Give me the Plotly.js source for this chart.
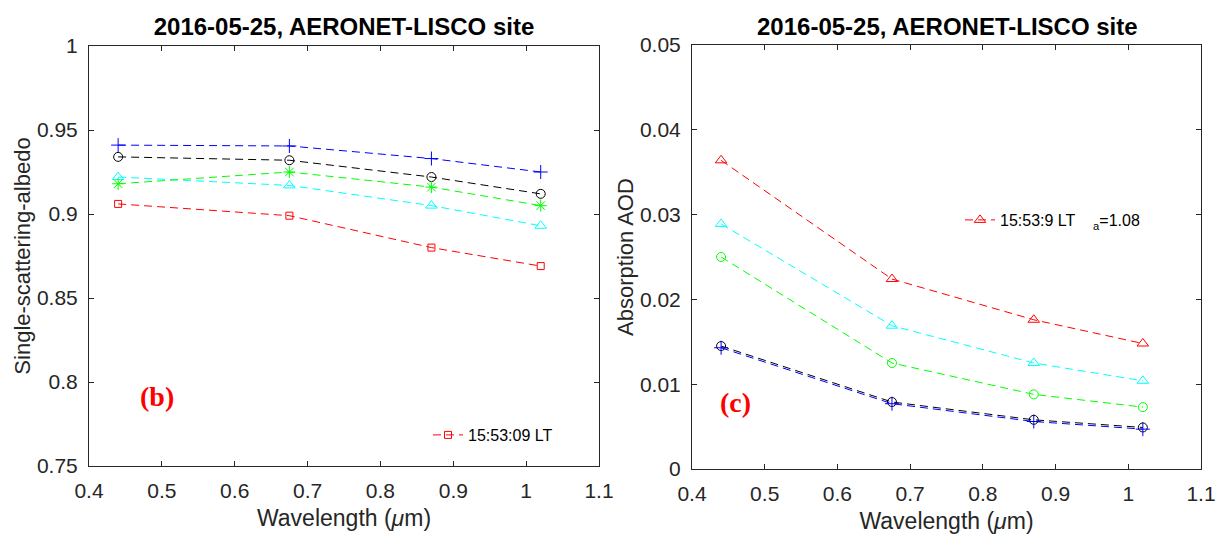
<!DOCTYPE html>
<html>
<head>
<meta charset="utf-8">
<script src="https://cdn.plot.ly/plotly-3.0.1.min.js"></script>
<style>html,body{margin:0;padding:0;background:#fff;}#chart{width:1219px;height:538px;}</style>
</head>
<body>
<div id="chart"></div>
<script>
// ---- data ----
const wavelength = [0.44, 0.675, 0.87, 1.02];

// panel (b) single-scattering albedo
const ssaBlue  = [0.941, 0.9405, 0.933, 0.925];
const ssaBlack = [0.934, 0.932, 0.922, 0.912];
const ssaGreen = [0.918, 0.925, 0.916, 0.905];
const ssaCyan  = [0.922, 0.917, 0.905, 0.893];
const ssaRed   = [0.906, 0.899, 0.880, 0.869];

// panel (c) absorption AOD
const aaodRed   = [0.0364, 0.0224, 0.0176, 0.0148];
const aaodCyan  = [0.0289, 0.0169, 0.0125, 0.0104];
const aaodGreen = [0.0250, 0.0125, 0.0088, 0.0073];
const aaodBlack = [0.0145, 0.0079, 0.0058, 0.0049];
const aaodBlue  = [0.0143, 0.0077, 0.0056, 0.0047];

const xTickVals = [0.4, 0.5, 0.6, 0.7, 0.8, 0.9, 1.0, 1.1];
const xTickText = ['0.4', '0.5', '0.6', '0.7', '0.8', '0.9', '1', '1.1'];
const ssaTickVals = [0.75, 0.8, 0.85, 0.9, 0.95, 1.0];
const ssaTickText = ['0.75', '0.8', '0.85', '0.9', '0.95', '1'];
const aaodTickVals = [0, 0.01, 0.02, 0.03, 0.04, 0.05];
const aaodTickText = ['0', '0.01', '0.02', '0.03', '0.04', '0.05'];

const legendB = '15:53:09 LT';
const legendC = '15:53:9 LT&nbsp;&nbsp;&nbsp;&nbsp;<sub>a</sub>=1.08';
const titleText = '2016-05-25, AERONET-LISCO site';

// ---- styling ----
const DASH = '8px,5px';
function tr(y, color, symbol, size, xa, ya, opts) {
  return Object.assign({
    x: wavelength, y: y, xaxis: xa, yaxis: ya,
    type: 'scatter', mode: 'lines+markers',
    line: {color: color, width: 1, dash: DASH},
    marker: {symbol: symbol, size: size, color: color, line: {color: color, width: 1}},
    showlegend: false, hoverinfo: 'skip'
  }, opts || {});
}

const data = [
  tr(ssaBlue,  '#0000ff', 'cross-thin-open', 10, 'x', 'y'),
  tr(ssaBlack, '#000000', 'circle-open', 9, 'x', 'y'),
  tr(ssaCyan,  '#00ffff', 'triangle-up-open', 10, 'x', 'y'),
  tr(ssaGreen, '#00ff00', 'asterisk-open', 10, 'x', 'y'),
  tr(ssaRed,   '#ff0000', 'square-open', 7, 'x', 'y', {showlegend: true, name: legendB, legend: 'legend'}),

  tr(aaodBlack, '#000000', 'circle-open', 9, 'x2', 'y2'),
  tr(aaodBlue,  '#0000ff', 'cross-thin-open', 10, 'x2', 'y2'),
  tr(aaodGreen, '#00ff00', 'circle-open', 9, 'x2', 'y2'),
  tr(aaodCyan,  '#00ffff', 'triangle-up-open', 10, 'x2', 'y2'),
  tr(aaodRed,   '#ff0000', 'triangle-up-open', 10, 'x2', 'y2', {showlegend: true, name: legendC, legend: 'legend2'})
];

const W = 1219, H = 538;
const FONT = 'Liberation Sans, Arial, sans-serif';
const AX = '#262626';

function xaxisDef(domain, anchor) {
  return {
    domain: domain, anchor: anchor, range: [0.4, 1.1],
    tickvals: xTickVals, ticktext: xTickText,
    ticks: 'inside', ticklen: 5, tickwidth: 1, tickcolor: AX,
    showline: true, linecolor: AX, linewidth: 1, mirror: 'ticks',
    showgrid: false, zeroline: false,
    tickfont: {family: FONT, size: 21, color: AX},
    ticklabelstandoff: 6,
    title: {text: 'Wavelength (<i>μ</i>m)', font: {family: FONT, size: 23, color: AX}, standoff: 8},
    automargin: false
  };
}
function yaxisDef(domain, anchor, range, vals, text, title) {
  return {
    domain: domain, anchor: anchor, range: range,
    tickvals: vals, ticktext: text,
    ticks: 'inside', ticklen: 5, tickwidth: 1, tickcolor: AX,
    showline: true, linecolor: AX, linewidth: 1, mirror: 'ticks',
    showgrid: false, zeroline: false,
    tickfont: {family: FONT, size: 21, color: AX},
    ticklabelstandoff: 6,
    title: {text: title, font: {family: FONT, size: 22, color: AX}},
    automargin: false
  };
}

const layout = {
  width: W, height: H,
  margin: {l: 0, r: 0, t: 0, b: 0},
  paper_bgcolor: '#ffffff', plot_bgcolor: '#ffffff',
  font: {family: FONT},
  title: {
    text: '<b>' + titleText + '</b>',
    font: {family: FONT, size: 24, color: '#000'},
    x: 344 / W, xanchor: 'center', y: 1 - 27 / H, yanchor: 'middle',
    xref: 'paper', yref: 'paper'
  },
  xaxis: xaxisDef([89 / W, 599 / W], 'y'),
  yaxis: yaxisDef([1 - 466 / H, 1 - 46 / H], 'x', [0.75, 1.0], ssaTickVals, ssaTickText, 'Single-scattering-albedo'),
  xaxis2: xaxisDef([692 / W, 1201 / W], 'y2'),
  yaxis2: yaxisDef([1 - 469 / H, 1 - 45 / H], 'x2', [0, 0.05], aaodTickVals, aaodTickText, 'Absorption AOD'),
  legend: {
    x: 428 / W, xanchor: 'left', y: 1 - 435 / H, yanchor: 'middle',
    bgcolor: 'rgba(0,0,0,0)', borderwidth: 0,
    font: {family: FONT, size: 16, color: '#000'}
  },
  legend2: {
    x: 960 / W, xanchor: 'left', y: 1 - 220 / H, yanchor: 'middle',
    bgcolor: 'rgba(0,0,0,0)', borderwidth: 0,
    font: {family: FONT, size: 16, color: '#000'}
  },
  annotations: [
    {text: '<b>' + titleText + '</b>', xref: 'paper', yref: 'paper',
     x: 947 / W, y: 1 - 27 / H, xanchor: 'center', yanchor: 'middle', showarrow: false,
     font: {family: FONT, size: 24, color: '#000'}},
    {text: '<b>(b)</b>', xref: 'x', yref: 'y', x: 0.494, y: 0.7916,
     xanchor: 'center', yanchor: 'middle', showarrow: false,
     font: {family: 'Liberation Serif, Times New Roman, serif', size: 28, color: '#ff0000'}},
    {text: '<b>(c)</b>', xref: 'x2', yref: 'y2', x: 0.46, y: 0.0079,
     xanchor: 'center', yanchor: 'middle', showarrow: false,
     font: {family: 'Liberation Serif, Times New Roman, serif', size: 28, color: '#ff0000'}}
  ]
};

Plotly.newPlot('chart', data, layout, {displayModeBar: false, staticPlot: true});
</script>
</body>
</html>
